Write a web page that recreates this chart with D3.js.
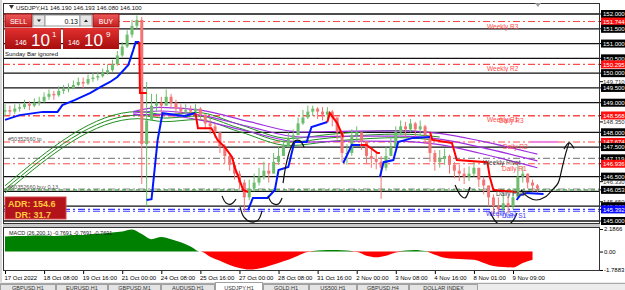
<!DOCTYPE html>
<html>
<head>
<meta charset="utf-8">
<script src="https://cdnjs.cloudflare.com/ajax/libs/d3/7.8.5/d3.min.js"></script>
<style>
body { margin: 0; background: #fff; overflow: hidden; }
text { font-family: "Liberation Sans", Arial, sans-serif; }
</style>
</head>
<body>
<div id="chart"></div>
<script>
// ---- data (USDJPY H1, one sample every 4 bars) ----
var barsPerSample = 4;
var firstOpen = 148.70;
var closes = [148.75,148.70,148.80,148.85,148.95,148.90,149.00,149.05,149.20,149.30,
  149.25,149.40,149.45,149.50,149.60,149.70,149.65,149.80,149.85,149.90,
  150.00,150.10,150.30,150.60,150.90,151.30,151.60,151.80,147.60,148.40,
  148.90,149.00,148.90,149.20,149.00,148.80,148.70,148.75,148.70,148.80,
  148.60,148.30,148.20,148.00,147.50,147.20,146.90,146.60,146.30,145.80,
  146.10,146.30,146.50,146.70,146.60,147.00,147.20,147.50,147.80,147.90,
  148.30,148.50,148.70,148.80,148.70,148.60,148.70,148.50,148.00,147.30,
  147.30,147.90,148.00,147.70,147.20,147.10,147.00,146.80,147.20,147.50,
  148.00,148.20,148.10,148.30,148.10,148.20,147.90,147.30,147.00,147.10,
  147.20,146.90,146.70,146.60,146.50,146.60,146.80,146.40,146.20,145.80,
  145.50,145.40,145.60,145.50,145.80,146.50,146.60,146.30,146.20,146.10];
var highs = [148.95,148.90,148.95,149.00,149.10,149.05,149.15,149.20,149.35,149.45,
  149.40,149.55,149.60,149.65,149.75,149.85,149.85,149.95,150.00,150.05,
  150.15,150.30,150.45,150.75,151.05,151.45,151.80,151.95,151.90,149.70,
  149.30,149.30,149.20,149.45,149.30,149.10,148.95,148.95,148.90,148.95,
  148.85,148.60,148.45,148.30,148.00,147.60,147.30,147.00,146.70,146.40,
  146.40,146.60,146.80,147.00,146.95,147.30,147.50,147.75,148.00,148.10,
  148.50,148.75,148.90,148.90,148.85,148.85,148.85,148.75,148.50,148.00,
  147.60,148.10,148.20,148.00,147.70,147.40,147.30,147.20,147.50,147.80,
  148.20,148.40,148.35,148.45,148.35,148.40,148.25,147.90,147.40,147.40,
  147.45,147.25,147.00,146.90,146.80,146.85,147.00,146.80,146.50,146.20,
  145.90,145.80,145.90,145.85,146.10,146.90,146.85,146.60,146.40,146.25];
var lows = [148.55,148.55,148.62,148.70,148.78,148.75,148.85,148.90,149.00,149.10,
  149.10,149.20,149.30,149.35,149.45,149.55,149.50,149.60,149.70,149.75,
  149.85,149.95,150.05,150.25,150.55,150.85,151.20,151.50,146.25,145.50,
  148.40,148.70,148.60,148.90,148.80,148.60,148.55,148.60,148.55,148.60,
  148.40,148.10,147.95,147.80,147.30,146.95,146.70,146.40,146.10,145.30,
  145.70,146.00,146.20,146.40,146.30,146.70,146.90,147.20,147.50,147.60,
  148.00,148.25,148.45,148.55,148.45,148.40,148.45,148.20,147.75,147.00,
  146.90,147.20,147.70,147.40,146.95,146.80,146.75,145.75,146.70,147.20,
  147.50,147.90,147.85,148.00,147.85,147.90,147.60,147.00,146.70,146.80,
  146.90,146.60,146.45,146.35,146.25,146.35,146.50,146.15,145.90,145.50,
  145.20,145.10,145.30,145.25,145.40,145.80,146.30,146.10,146.00,145.95];

// trailing step line: [bar, price]
var trendUp = [
  [[0,148.42],[12,148.58],[31,148.69],[43,148.69],[47,148.92],[57,149.09],[70,149.33],[78,149.53],[86,149.70],[92,149.87],[101,150.28],[105,150.78],[107,151.05],[110,151.05]],
  [[116,145.71],[120,145.74],[125,147.74],[129,148.65],[147,148.55],[156,148.65]],
  [[199,145.37],[203,145.78],[215,145.78],[221,146.05],[224,146.72],[232,146.83],[237,147.67],[247,147.67],[251,148.18],[264,148.35]],
  [[277,146.96],[284,147.57],[291,147.57]],
  [[307,146.49],[310,146.99],[318,147.06],[322,147.67],[334,147.81],[348,147.84]],
  [[419,145.71],[422,145.88],[427,145.95],[441,145.91]]
];
var trendDown = [
  [[110,151.05],[110.5,149.33],[116,149.33]],
  [[156,148.65],[158,148.14],[169,148.14],[174,147.74],[180,147.50],[186,147.16],[188,146.83],[192,146.39],[195,146.05],[199,145.98]],
  [[264,148.35],[266,148.65],[272,148.31],[277,147.84]],
  [[291,147.57],[296,147.57],[305,147.30],[307,147.30]],
  [[348,148.01],[350,147.74],[366,147.64],[370,147.06],[395,146.99],[397,146.49],[400,146.05],[419,145.98]]
];

// moving-average ribbons
var greenBars = [0,109,131,157,192,233,266,299,323,356];
var greenMid = [146.07,148.58,148.48,148.55,148.14,147.67,147.81,147.91,147.94,147.84];
var greenHalf = 0.12;
var purpleBars = [105,127,160,201,242,283,324,356,389,436];
var purpleMid = [148.65,148.72,148.58,148.18,147.84,147.87,147.87,147.77,147.50,147.03];
var purpleHalf = [0.05,0.12,0.17,0.17,0.17,0.17,0.18,0.19,0.21,0.23];

// levels
var gridLevels = [152,151.5,151,150.5,150,149.5,149,148,147.5,146.5,146,145.5,145];
var pivotNames = ["Weekly R3","Weekly R2","Weekly R1","Daily R3","Daily R2","Weekly Pivot","Daily R1","Daily Pivot","Weekly S1","Daily S1"];
var pivotPrices = [151.744,150.295,148.568,148.55,147.674,147.119,146.936,146.08,145.392,145.33];
var orderLabels = ["#50352660 tp","#50352660 buy 0.13"];
var orderPrices = [147.674,146.053];
var axisPrices = [152.000,151.744,151.500,151.000,150.500,150.295,150.000,149.710,149.500,149.000,148.568,148.350,148.000,147.674,147.500,147.119,146.936,146.500,146.330,146.053,145.650,145.500,145.392,145.000];
var axisKinds = ["line","res","line","line","line","res","line","mark","line","line","res","mark","line","res","line","line","res","line","mark","line","mark","line","sup","line"];

// hand drawn curves [bar, price]
var drawings = [
  [[177.7,145.85],[181,145.61],[185,145.57],[189.2,145.74]],
  [[192.5,145.47],[195.7,145.13],[201.5,144.97],[207.2,145.03],[210.5,145.34]],
  [[215.4,145.85],[218.7,145.61],[223.6,145.57],[226.9,145.78]],
  [[227.7,146.28],[230.1,146.89],[233.4,147.40],[237.5,147.71],[241.6,147.71],[244.9,147.50]],
  [[368.5,146.22],[373.5,145.85],[376.8,145.78],[380.8,146.15]],
  [[397.2,145.30],[403,144.93],[409.5,144.83],[415.2,144.97],[419.3,145.27]],
  [[422.6,146.05],[428.3,145.81],[434.9,145.71],[442.3,145.81],[448.8,146.08],[452.9,146.28],[456.2,146.79],[459.5,147.33],[461.9,147.64]],
  [[457.8,147.43],[461.9,147.64],[466,147.45]]
];
var tpSegment = [[430,147.674],[453,147.674]];

// MACD histogram, one value every 8 bars
var macdStep = 8;
var macdHist = [1.45,1.5,1.5,1.55,1.55,1.5,1.55,1.6,1.6,1.7,
  1.75,1.85,1.95,2.15,1.7,1.2,1.4,1.2,0.9,0.5,
  0.0,-0.5,-0.9,-1.3,-1.6,-1.75,-1.65,-1.4,-1.1,-0.8,
  -0.4,-0.05,0.1,0.15,0.15,0.1,-0.05,-0.4,-0.55,-0.4,
  -0.1,0.1,0.15,0.05,-0.3,-0.6,-0.7,-0.75,-0.8,-1.1,
  -1.4,-1.5,-1.55,-1.1,-0.8];
var macdTicks = [2.1866,0,-1.7883];
var macdTickLabels = ["2.1866","0.00","-1.7883"];

var tickBars = [0,32,64,96,128,160,192,224,256,288,320,352,384,416];
var tickLabels = ["17 Oct 2022","18 Oct 08:00","19 Oct 16:00","21 Oct 00:00","24 Oct 08:00","25 Oct 16:00","27 Oct 00:00","28 Oct 08:00","31 Oct 16:00","2 Nov 00:00","3 Nov 08:00","4 Nov 16:00","8 Nov 01:00","9 Nov 09:00"];
var tabNames = ["GBPUSD,H1","EURUSD,H1","GBPUSD,M1","AUDUSD,H1","USDJPY,H1","GOLD,H1","US500,H1","GBPUSD,H4","DOLLAR INDEX"];
var activeTab = "USDJPY,H1";

// ---- layout ----
var W = 625, H = 290;
var mainTop = 3, mainBot = 224, subTop = 227, subBot = 271, left = 3, right = 600;

var svg = d3.select("#chart").append("svg").attr("width", W).attr("height", H);
svg.append("rect").attr("width", W).attr("height", H).attr("fill", "#fff");

var x = d3.scaleLinear().domain([0, 416]).range([5, 513]);
var y = d3.scaleLinear().domain([145, 152]).range([221, 14]);
var ym = d3.scaleLinear().domain([-1.7883, 2.1866]).range([270, 229]);

var defs = svg.append("defs");
defs.append("clipPath").attr("id", "clipMain").append("rect")
  .attr("x", left).attr("y", mainTop).attr("width", right - left).attr("height", mainBot - mainTop);
defs.append("clipPath").attr("id", "clipSub").append("rect")
  .attr("x", left).attr("y", subTop).attr("width", right - left).attr("height", subBot - subTop);
var g1 = defs.append("linearGradient").attr("id", "btnRed").attr("x1", 0).attr("y1", 0).attr("x2", 0).attr("y2", 1);
g1.append("stop").attr("offset", "0%").attr("stop-color", "#ee5a5a");
g1.append("stop").attr("offset", "100%").attr("stop-color", "#c41c1c");
var g2 = defs.append("linearGradient").attr("id", "boxRed").attr("x1", 0).attr("y1", 0).attr("x2", 0).attr("y2", 1);
g2.append("stop").attr("offset", "0%").attr("stop-color", "#e23030");
g2.append("stop").attr("offset", "100%").attr("stop-color", "#a80e0e");

// window chrome
svg.append("rect").attr("x", 0).attr("y", 0).attr("width", 2).attr("height", 282).attr("fill", "#d8d8d8");
svg.append("rect").attr("x", left).attr("y", mainBot).attr("width", right - left).attr("height", subTop - mainBot).attr("fill", "#c8c8c8");

var main = svg.append("g").attr("clip-path", "url(#clipMain)");

// black horizontal lines
main.selectAll(".grid").data(gridLevels).enter().append("line")
  .attr("x1", left).attr("x2", right)
  .attr("y1", function(d) { return y(d); }).attr("y2", function(d) { return y(d); })
  .attr("stroke", "#111").attr("stroke-width", 1.3);

// pivot lines
function pivotColor(name) {
  if (name.indexOf("Pivot") >= 0) return "#8c8c8c";
  if (name.indexOf("S1") >= 0) return "#3c3cff";
  return "#ff4a4a";
}
main.selectAll(".pv").data(pivotPrices).enter().append("line")
  .attr("x1", left).attr("x2", right)
  .attr("y1", function(d) { return y(d); }).attr("y2", function(d) { return y(d); })
  .attr("stroke", function(d, i) { return pivotColor(pivotNames[i]); })
  .attr("stroke-width", 1.1)
  .attr("stroke-dasharray", "7,3,2,3");

// buy order line
main.append("line").attr("x1", left).attr("x2", right)
  .attr("y1", y(orderPrices[1])).attr("y2", y(orderPrices[1]))
  .attr("stroke", "#2a9a2a").attr("stroke-width", 1).attr("stroke-dasharray", "4,3");

// ribbons
function ribbon(bars, mid, half, color, width) {
  [-1, 0, 1].forEach(function(s) {
    var pts = bars.map(function(b, i) {
      var h = Array.isArray(half) ? half[i] : half;
      return [b, mid[i] + s * h];
    });
    main.append("path").datum(pts)
      .attr("d", d3.line().x(function(d) { return x(d[0]); }).y(function(d) { return y(d[1]); }).curve(d3.curveMonotoneX))
      .attr("fill", "none").attr("stroke", color).attr("stroke-width", width);
  });
}
ribbon(greenBars, greenMid, greenHalf, "#1f8f1f", 1);
ribbon(purpleBars, purpleMid, purpleHalf, "#a030e0", 1.2);

// candles
var upCol = "#6cbd6c", dnCol = "#f37474";
var candles = closes.map(function(c, i) {
  return { bar: i * barsPerSample, o: i ? closes[i - 1] : firstOpen, c: c, h: highs[i], l: lows[i] };
});
var cg = main.selectAll(".candle").data(candles).enter().append("g");
cg.append("line")
  .attr("x1", function(d) { return x(d.bar); }).attr("x2", function(d) { return x(d.bar); })
  .attr("y1", function(d) { return y(d.h); }).attr("y2", function(d) { return y(d.l); })
  .attr("stroke", function(d) { return d.c >= d.o ? upCol : dnCol; })
  .attr("stroke-width", 1);
cg.append("rect")
  .attr("x", function(d) { return x(d.bar) - 1.5; })
  .attr("width", 3)
  .attr("y", function(d) { return y(Math.max(d.o, d.c)); })
  .attr("height", function(d) { return Math.max(1, Math.abs(y(d.o) - y(d.c))); })
  .attr("fill", function(d) { return d.c >= d.o ? upCol : dnCol; });

// pink tp drag segment
main.append("path").datum(tpSegment)
  .attr("d", d3.line().x(function(d) { return x(d[0]); }).y(function(d) { return y(d[1]); }))
  .attr("stroke", "#ec86e0").attr("stroke-width", 2);

// step trend line
var stepLine = d3.line().x(function(d) { return x(d[0]); }).y(function(d) { return y(d[1]); });
main.selectAll(".up").data(trendUp).enter().append("path")
  .attr("d", stepLine).attr("fill", "none").attr("stroke", "#0018ff").attr("stroke-width", 2);
main.selectAll(".dn").data(trendDown).enter().append("path")
  .attr("d", stepLine).attr("fill", "none").attr("stroke", "#ff0000").attr("stroke-width", 2);

// hand drawings
main.selectAll(".drw").data(drawings).enter().append("path")
  .attr("d", d3.line().x(function(d) { return x(d[0]); }).y(function(d) { return y(d[1]); }).curve(d3.curveCatmullRom))
  .attr("fill", "none").attr("stroke", "#111").attr("stroke-width", 1.2);

// pivot labels
var pivotLabelX = { "Weekly R3": 487, "Weekly R2": 487, "Weekly R1": 487, "Daily R3": 499, "Daily R2": 503,
  "Weekly Pivot": 483, "Daily R1": 502, "Daily Pivot": 496, "Weekly S1": 486, "Daily S1": 502 };
main.selectAll(".pvl").data(pivotNames).enter().append("text")
  .attr("x", function(d) { return pivotLabelX[d]; })
  .attr("y", function(d, i) { return y(pivotPrices[i]) + 7; })
  .attr("font-size", 6.5)
  .attr("fill", function(d) { return d.indexOf("Pivot") >= 0 ? "#444" : pivotColor(d); })
  .text(function(d) { return d; });

// order labels
main.selectAll(".ol").data(orderLabels).enter().append("text")
  .attr("x", 8).attr("y", function(d, i) { return y(orderPrices[i]) - 1; })
  .attr("font-size", 5.5).attr("fill", "#555").text(function(d) { return d; });

// main frame
svg.append("rect").attr("x", left + 0.5).attr("y", mainTop + 0.5)
  .attr("width", right - left - 1).attr("height", mainBot - mainTop - 1)
  .attr("fill", "none").attr("stroke", "#333").attr("stroke-width", 1);

// shift marker
svg.append("path").attr("d", "M535,3 L541,3 L538,7 Z").attr("fill", "#999");

// right price labels
var labColors = { line: "#000", res: "#ff1010", sup: "#0a0aff" };
var al = svg.selectAll(".al").data(axisPrices).enter().append("g");
al.append("line").attr("x1", right).attr("x2", right + 3)
  .attr("y1", function(d) { return y(d); }).attr("y2", function(d) { return y(d); })
  .attr("stroke", "#000");
al.filter(function(d, i) { return axisKinds[i] !== "mark"; }).append("rect")
  .attr("x", right + 1).attr("width", 26)
  .attr("y", function(d) { return y(d) - 4; }).attr("height", 8)
  .attr("fill", function(d) { return labColors[axisKinds[axisPrices.indexOf(d)]]; });
al.append("text")
  .attr("x", right + 3).attr("y", function(d) { return y(d) + 2.3; })
  .attr("font-size", 6)
  .attr("fill", function(d, i) { return axisKinds[i] === "mark" ? "#333" : "#fff"; })
  .text(function(d) { return d.toFixed(3); });

// MACD panel
var sub = svg.append("g").attr("clip-path", "url(#clipSub)");
var macdPts = macdHist.map(function(v, i) { return [i * macdStep, v]; });
sub.append("path").datum(macdPts)
  .attr("d", d3.area().x(function(d) { return x(d[0]); }).y0(ym(0)).y1(function(d) { return ym(Math.max(0, d[1])); }).curve(d3.curveMonotoneX))
  .attr("fill", "#008000");
sub.append("path").datum(macdPts)
  .attr("d", d3.area().x(function(d) { return x(d[0]); }).y0(ym(0)).y1(function(d) { return ym(Math.min(0, d[1])); }).curve(d3.curveMonotoneX))
  .attr("fill", "#ff0000");
svg.append("text").attr("x", 9).attr("y", 235).attr("font-size", 5.5).attr("fill", "#222")
  .text("MACD (26,200,1) -0.7691 -0.7691 -0.7691");
svg.append("rect").attr("x", left + 0.5).attr("y", subTop + 0.5)
  .attr("width", right - left - 1).attr("height", subBot - subTop - 1)
  .attr("fill", "none").attr("stroke", "#333");

var yAxisM = svg.append("g").attr("transform", "translate(" + right + ",0)")
  .call(d3.axisRight(ym).tickValues(macdTicks).tickFormat(function(d, i) { return macdTickLabels[i]; }).tickSize(3));
yAxisM.select(".domain").remove();
yAxisM.selectAll("text").attr("font-size", 6).attr("x", 4).attr("font-family", "Liberation Sans, Arial, sans-serif");

// time axis
var xAxis = svg.append("g").attr("transform", "translate(0," + subBot + ")")
  .call(d3.axisBottom(x).tickValues(tickBars).tickFormat(function(d, i) { return tickLabels[i]; }).tickSize(3));
xAxis.select(".domain").remove();
xAxis.selectAll("text").attr("font-size", 6).attr("text-anchor", "start").attr("x", -1).attr("y", 5)
  .attr("font-family", "Liberation Sans, Arial, sans-serif");

// tabs
var tabEdges = [0, 56, 108, 161, 215, 263, 309, 357, 409, 478];
svg.append("rect").attr("x", 0).attr("y", 282).attr("width", W).attr("height", 8).attr("fill", "#ececec");
svg.append("line").attr("x1", 0).attr("x2", W).attr("y1", 283.5).attr("y2", 283.5).attr("stroke", "#a8a8a8");
var tabs = svg.selectAll(".tab").data(tabNames).enter().append("g");
tabs.append("rect")
  .attr("x", function(d, i) { return tabEdges[i] + 0.5; })
  .attr("y", function(d) { return d === activeTab ? 282.5 : 284.5; })
  .attr("width", function(d, i) { return tabEdges[i + 1] - tabEdges[i] - 1; })
  .attr("height", 10)
  .attr("fill", function(d) { return d === activeTab ? "#fff" : "#e4e4e4"; })
  .attr("stroke", "#a0a0a0");
tabs.append("text")
  .attr("x", function(d, i) { return (tabEdges[i] + tabEdges[i + 1]) / 2; })
  .attr("y", 290).attr("text-anchor", "middle").attr("font-size", 5.5).attr("fill", "#333")
  .text(function(d) { return d; });

// title
svg.append("path").attr("d", "M9,5 L14,5 L11.5,9 Z").attr("fill", "#333");
svg.append("text").attr("x", 16).attr("y", 9.5).attr("font-size", 6).attr("fill", "#111")
  .text("USDJPY,H1  146.190 146.193 146.080 146.100");

// one click trading panel
var ot = svg.append("g");
ot.append("rect").attr("x", 5).attr("y", 14).attr("width", 27).attr("height", 13).attr("fill", "url(#btnRed)").attr("stroke", "#a01010");
ot.append("text").attr("x", 18.5).attr("y", 23.5).attr("text-anchor", "middle").attr("font-size", 7).attr("fill", "#fff").text("SELL");
ot.append("rect").attr("x", 93).attr("y", 14).attr("width", 26).attr("height", 13).attr("fill", "url(#btnRed)").attr("stroke", "#a01010");
ot.append("text").attr("x", 106).attr("y", 23.5).attr("text-anchor", "middle").attr("font-size", 7).attr("fill", "#fff").text("BUY");
ot.append("rect").attr("x", 33).attr("y", 15).attr("width", 12).attr("height", 11).attr("fill", "#e6e6e6").attr("stroke", "#999");
ot.append("rect").attr("x", 45).attr("y", 15).attr("width", 35).attr("height", 11).attr("fill", "#fff").attr("stroke", "#999");
ot.append("rect").attr("x", 80).attr("y", 15).attr("width", 12).attr("height", 11).attr("fill", "#e6e6e6").attr("stroke", "#999");
ot.append("path").attr("d", "M37,19.5 L41,19.5 L39,22 Z").attr("fill", "#222");
ot.append("path").attr("d", "M84,22 L88,22 L86,19.5 Z").attr("fill", "#222");
ot.append("text").attr("x", 78).attr("y", 23.5).attr("text-anchor", "end").attr("font-size", 7).attr("fill", "#111").text("0.13");
ot.append("rect").attr("x", 5).attr("y", 28).attr("width", 56).attr("height", 21).attr("fill", "url(#boxRed)");
ot.append("rect").attr("x", 63).attr("y", 28).attr("width", 56).attr("height", 21).attr("fill", "url(#boxRed)");
ot.append("text").attr("x", 15).attr("y", 45).attr("font-size", 7).attr("fill", "#fff").text("146");
ot.append("text").attr("x", 31).attr("y", 46).attr("font-size", 17).attr("fill", "#fff").text("10");
ot.append("text").attr("x", 52).attr("y", 37).attr("font-size", 8).attr("fill", "#fff").text("1");
ot.append("text").attr("x", 68).attr("y", 45).attr("font-size", 7).attr("fill", "#fff").text("146");
ot.append("text").attr("x", 84).attr("y", 46).attr("font-size", 17).attr("fill", "#fff").text("10");
ot.append("text").attr("x", 106).attr("y", 37).attr("font-size", 8).attr("fill", "#fff").text("9");
svg.append("text").attr("x", 5).attr("y", 56).attr("font-size", 6).attr("fill", "#111").text("Sunday Bar ignored");

// ADR box
svg.append("rect").attr("x", 5).attr("y", 197).attr("width", 61).attr("height", 22)
  .attr("fill", "#b3141c").attr("stroke", "#d24848");
svg.append("text").attr("x", 8).attr("y", 207).attr("font-size", 9).attr("font-weight", "bold")
  .attr("fill", "#ffc93c").text("ADR: 154.6");
svg.append("text").attr("x", 15).attr("y", 217.5).attr("font-size", 9).attr("font-weight", "bold")
  .attr("fill", "#ffc93c").text("DR: 31.7");
</script>
</body>
</html>
